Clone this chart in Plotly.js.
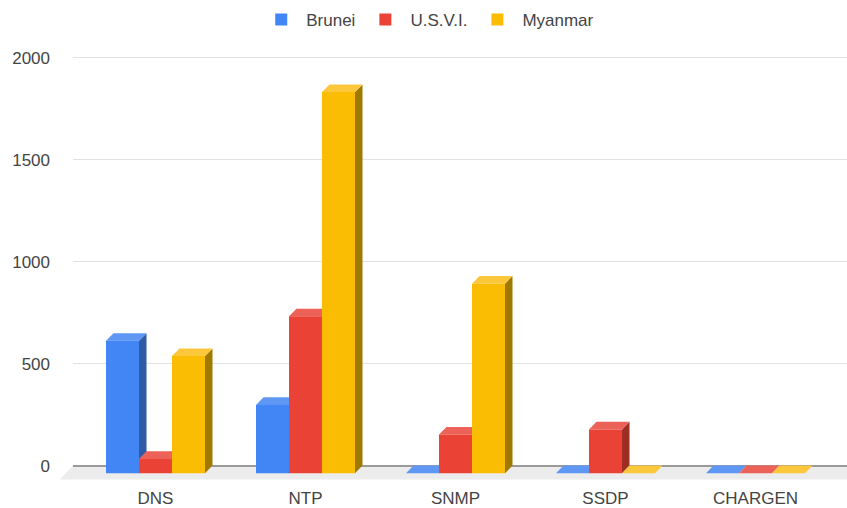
<!DOCTYPE html>
<html>
<head>
<meta charset="utf-8">
<script src="https://cdn.plot.ly/plotly-3.0.1.min.js"></script>
<style>
  html, body { margin: 0; padding: 0; background: #ffffff; }
  #chart { width: 847px; height: 508px; }
</style>
</head>
<body>
<div id="chart"></div>
<script>
// Amplification vectors by attack protocol, one series per country
const categories = ['DNS', 'NTP', 'SNMP', 'SSDP', 'CHARGEN'];
const seriesNames = ['Brunei', 'U.S.V.I.', 'Myanmar'];
const brunei  = [650, 335, 0, 0, 0];
const usvi    = [70, 770, 190, 215, 0];
const myanmar = [575, 1870, 930, 0, 0];
const yTicks = [0, 500, 1000, 1500, 2000];

// Face colours for the pseudo-3D bars: front, top, side
const frontColors = ['#4285F4', '#EA4335', '#FBBC04'];
const topColors   = ['#5f97f5', '#ec6259', '#fcc73a'];
const sideColors  = ['#2d5ba6', '#9e2d24', '#a07a00'];

// Plot geometry
const W = 847, H = 508;
const M = { l: 73, r: 0, t: 37, b: 22 };
const xRange = [-0.55, 4.61];
const yRange = [-100, 2098];
const plotW = W - M.l - M.r;
const plotH = H - M.t - M.b;
const xPx = plotW / (xRange[1] - xRange[0]);   // pixels per category unit
const yPx = plotH / (yRange[1] - yRange[0]);   // pixels per value unit

// Extrusion depth, in pixels, turned into data units
const depthX = 7.5 / xPx;
const depthY = 7.6 / yPx;
const floorDepthPx = { x: 13, y: 14 };

const barW = 0.22;
const offsets = [-0.33, -0.11, 0.11];
const allSeries = [brunei, usvi, myanmar];
const idx = categories.map((_, i) => i);

// Front faces: ordinary bar traces, sitting one depth step in front of the gridline plane
const traces = allSeries.map((vals, s) => ({
  type: 'bar',
  name: seriesNames[s],
  x: idx,
  y: vals,
  base: idx.map(() => -depthY),
  width: idx.map(() => barW),
  offset: idx.map(() => offsets[s]),
  marker: { color: frontColors[s], line: { width: 0 } },
  hovertemplate: '%{fullData.name}: %{y}<extra></extra>'
}));

// Top and side faces drawn as shapes between the gridlines and the front faces
const shapes = [];

// Floor band under the bars (paper coordinates so it can reach past the left edge)
const toPaperX = px => (px - M.l) / plotW;
const toPaperY = v => (v - yRange[0]) / (yRange[1] - yRange[0]);
const floorBackY = toPaperY(0);
const floorFrontY = toPaperY(-floorDepthPx.y / yPx);
shapes.push({
  type: 'path', xref: 'paper', yref: 'paper', layer: 'below',
  path: `M${toPaperX(M.l)},${floorBackY} L1,${floorBackY} L1,${floorFrontY} ` +
        `L${toPaperX(M.l - floorDepthPx.x)},${floorFrontY} Z`,
  fillcolor: '#ececec', line: { width: 0 }
});

allSeries.forEach((vals, s) => {
  vals.forEach((v, i) => {
    const x0 = i + offsets[s];
    const x1 = x0 + barW;
    const yf = v - depthY;   // front top edge
    // side face
    if (v > 0) {
      shapes.push({
        type: 'path', xref: 'x', yref: 'y', layer: 'between',
        path: `M${x1},${-depthY} L${x1},${yf} L${x1 + depthX},${v} L${x1 + depthX},0 Z`,
        fillcolor: sideColors[s], line: { width: 0 }
      });
    }
    // top face
    shapes.push({
      type: 'path', xref: 'x', yref: 'y', layer: 'between',
      path: `M${x0},${yf} L${x1},${yf} L${x1 + depthX},${v} L${x0 + depthX},${v} Z`,
      fillcolor: topColors[s], line: { width: 0 }
    });
  });
});

const font = { family: '"Liberation Sans", Arial, sans-serif', size: 17, color: '#444444' };

const layout = {
  width: W, height: H,
  margin: M,
  paper_bgcolor: '#ffffff',
  plot_bgcolor: '#ffffff',
  font: font,
  barmode: 'overlay',
  showlegend: true,
  legend: {
    orientation: 'h',
    xref: 'container', yref: 'container',
    x: 0.505, xanchor: 'center',
    y: 1 - 2 / H, yanchor: 'top',
    itemwidth: 40,
    font: font,
    itemclick: false, itemdoubleclick: false
  },
  xaxis: {
    range: xRange,
    tickmode: 'array',
    tickvals: idx,
    ticktext: categories,
    showgrid: false, zeroline: false, showline: false,
    ticks: '',
    tickfont: font,
    fixedrange: true
  },
  yaxis: {
    range: yRange,
    tickmode: 'array',
    tickvals: yTicks,
    ticktext: yTicks.map(String),
    showgrid: true, gridcolor: '#e2e2e2', gridwidth: 1,
    zeroline: true, zerolinecolor: '#9a9a9a', zerolinewidth: 2,
    showline: false,
    ticks: '',
    ticklabelstandoff: 22,
    tickfont: font,
    fixedrange: true
  },
  shapes: shapes
};

Plotly.newPlot('chart', traces, layout, { displayModeBar: false, staticPlot: true });
</script>
</body>
</html>
